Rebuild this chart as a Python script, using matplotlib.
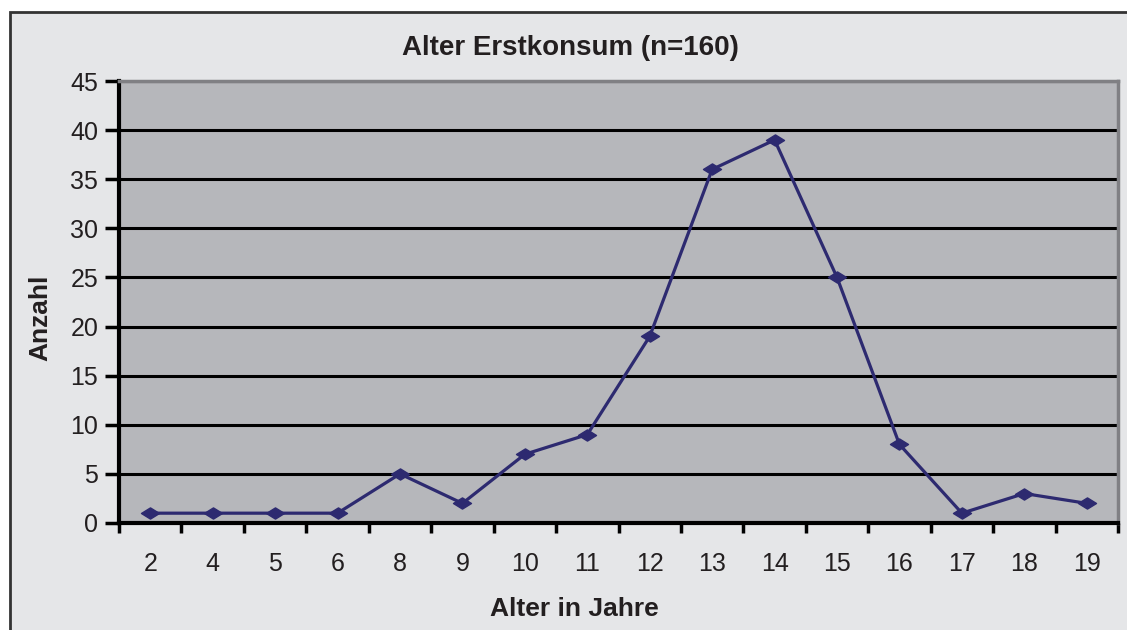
import matplotlib
matplotlib.use("Agg")
import matplotlib.pyplot as plt
from matplotlib.patches import Rectangle
from matplotlib.path import Path

# Data
ages = ["2", "4", "5", "6", "8", "9", "10", "11", "12", "13", "14", "15", "16", "17", "18", "19"]
counts = [1, 1, 1, 1, 5, 2, 7, 9, 19, 36, 39, 25, 8, 1, 3, 2]
yticks = [0, 5, 10, 15, 20, 25, 30, 35, 40, 45]

# Colours / fonts
outer_bg = "#e5e6e8"
plot_bg = "#b6b7bb"
line_col = "#2d2a70"
txt_col = "#231f20"
fam = ["Liberation Sans Narrow", "Liberation Sans", "DejaVu Sans"]

W, H = 1127, 630
fig = plt.figure(figsize=(W / 100, H / 100), dpi=100)
fig.patch.set_facecolor("white")

# outer chart frame (runs off the right and bottom edge)
fig.patches.append(Rectangle((10 / W, -0.05), 1.1, 1 - 12 / H + 0.05,
                             transform=fig.transFigure, facecolor=outer_bg,
                             edgecolor="#333333", linewidth=2, zorder=-5))

ax = fig.add_axes([119 / W, 1 - 523 / H, (1118 - 119) / W, (523 - 81) / H])
ax.set_facecolor(plot_bg)

# squashed diamond marker
diamond = Path([(-1, 0), (0, 0.62), (1, 0), (0, -0.62), (-1, 0)],
               [Path.MOVETO, Path.LINETO, Path.LINETO, Path.LINETO, Path.CLOSEPOLY])

x = list(range(len(ages)))
ax.plot(x, counts, color=line_col, linewidth=2.3, marker=diamond,
        markersize=13, markerfacecolor=line_col, markeredgecolor=line_col,
        zorder=3, clip_on=False)

ax.set_xlim(-0.5, len(ages) - 0.5)
ax.set_ylim(0, 45)
ax.set_yticks(yticks)
ax.yaxis.grid(True, color="black", linewidth=2.2)
ax.set_axisbelow(True)

ax.set_xticks(x)
ax.set_xticklabels(ages)
ax.set_xticks([i - 0.5 for i in range(len(ages) + 1)], minor=True)
ax.tick_params(axis="x", which="major", length=0, pad=21)
ax.tick_params(axis="x", which="minor", length=7, width=2.5, color="black", direction="out")
ax.tick_params(axis="y", length=10, width=2.5, color="black", pad=5)
for lab in ax.get_xticklabels() + ax.get_yticklabels():
    lab.set_family(fam)
    lab.set_fontsize(18)
    lab.set_color(txt_col)

ax.spines["left"].set_linewidth(3)
ax.spines["left"].set_color("black")
ax.spines["bottom"].set_linewidth(3)
ax.spines["bottom"].set_color("black")
ax.spines["top"].set_linewidth(2.5)
ax.spines["top"].set_color("#808084")
ax.spines["right"].set_linewidth(2.5)
ax.spines["right"].set_color("#808084")

fig.text(570 / W, 1 - 48 / H, "Alter Erstkonsum (n=160)", ha="center", va="center",
         fontsize=20, fontweight="bold", family=fam, color=txt_col)
fig.text(574 / W, 1 - 609 / H, "Alter in Jahre", ha="center", va="center",
         fontsize=19, fontweight="bold", family=fam, color=txt_col)
fig.text(40 / W, 1 - 318 / H, "Anzahl", ha="center", va="center", rotation=90,
         fontsize=19, fontweight="bold", family=fam, color=txt_col)

fig.savefig("out.png", dpi=100)
